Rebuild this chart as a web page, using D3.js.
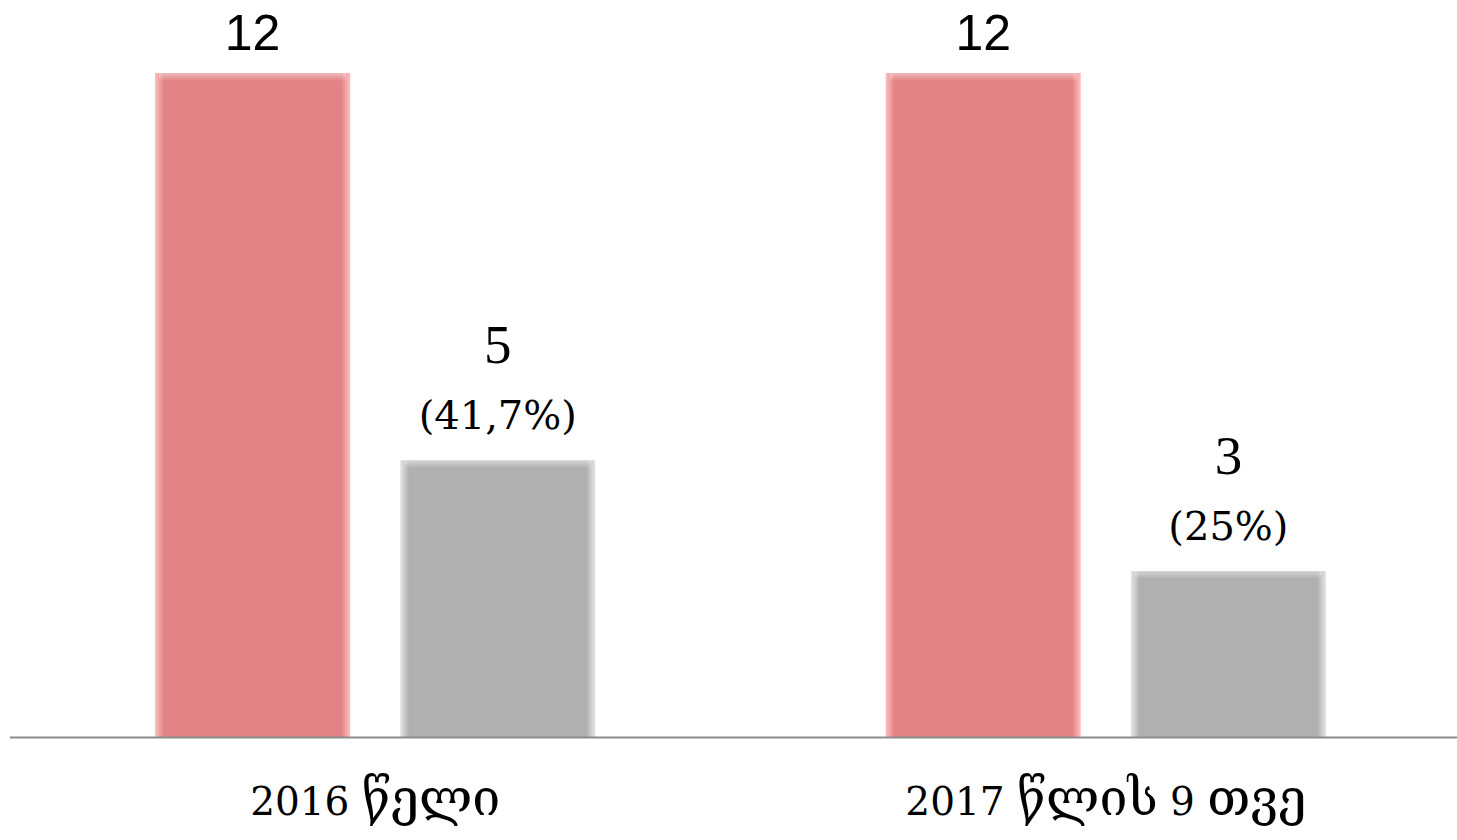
<!DOCTYPE html>
<html><head><meta charset="utf-8">
<script src="https://cdn.jsdelivr.net/npm/d3@7"></script>
<style>html,body{margin:0;padding:0;background:#fff;}svg{display:block;}</style>
</head><body>
<svg id="chart" width="1457" height="840"></svg>
<script>
const categories = ["2016 წელი", "2017 წლის 9 თვე"];
const series = ["total", "part"];
const totalValues = [12, 12];
const partValues = [5, 3];
const partPercents = ["(41,7%)", "(25%)"];

const W = 1457, H = 840;
const svg = d3.select("#chart");
const baseY = 737, topY = 73;

const x0 = d3.scaleBand().domain(categories).range([155, 1326]).paddingInner(290/730).paddingOuter(0);
const x1 = d3.scaleBand().domain(series).range([0, x0.bandwidth()]).paddingInner(50/245).paddingOuter(0);
const y = d3.scaleLinear().domain([0, 12]).range([baseY, topY]);

const colors = {total: {base: "#E38385", edge: "#FFC0C0"}, part: {base: "#B0B0B0", edge: "#E6E6E6"}};
const defs = svg.append("defs");
Object.entries(colors).forEach(([k, c]) => {
  const g = defs.append("linearGradient").attr("id", "h-" + k).attr("x1", 0).attr("x2", 1).attr("y1", 0).attr("y2", 0);
  [[0, c.edge],[0.045, c.base],[0.955, c.base],[1, c.edge]].forEach(([o, col]) => g.append("stop").attr("offset", o).attr("stop-color", col));
});
const tg = defs.append("linearGradient").attr("id", "topg").attr("x1", 0).attr("x2", 0).attr("y1", 0).attr("y2", 1);
tg.append("stop").attr("offset", 0).attr("stop-color", "#fff").attr("stop-opacity", 0.45);
tg.append("stop").attr("offset", 1).attr("stop-color", "#fff").attr("stop-opacity", 0);

const rows = categories.map((c, i) => ({cat: c, items: [
  {key: "total", v: totalValues[i], pct: null},
  {key: "part", v: partValues[i], pct: partPercents[i]}
]}));

const groups = svg.selectAll("g.grp").data(rows).enter().append("g").attr("class", "grp")
  .attr("transform", d => `translate(${x0(d.cat)},0)`);

const bars = groups.selectAll("g.bar").data(d => d.items).enter().append("g").attr("class", "bar");
bars.append("rect")
  .attr("x", d => x1(d.key)).attr("width", x1.bandwidth())
  .attr("y", d => y(d.v)).attr("height", d => baseY - y(d.v))
  .attr("fill", d => `url(#h-${d.key})`);
bars.append("rect")
  .attr("x", d => x1(d.key) + 4).attr("width", x1.bandwidth() - 8)
  .attr("y", d => y(d.v)).attr("height", 8)
  .attr("fill", "url(#topg)");

// value labels
bars.filter(d => d.key === "total").append("text")
  .attr("x", d => x1(d.key) + x1.bandwidth()/2).attr("y", d => y(d.v) - 23)
  .attr("text-anchor", "middle").attr("font-family", "'Liberation Sans', Arial, sans-serif")
  .attr("font-size", 50).attr("fill", "#000").text(d => d.v);
bars.filter(d => d.key === "part").append("text")
  .attr("x", d => x1(d.key) + x1.bandwidth()/2).attr("y", d => y(d.v) - 97)
  .attr("text-anchor", "middle").attr("font-family", "'Liberation Serif', serif")
  .attr("font-size", 55).attr("fill", "#000").text(d => d.v);
bars.filter(d => d.key === "part").append("text")
  .attr("x", d => x1(d.key) + x1.bandwidth()/2).attr("y", d => y(d.v) - 31)
  .attr("text-anchor", "middle").attr("font-family", "'DejaVu Serif', serif")
  .attr("font-size", 40).attr("fill", "#000").text(d => d.pct);

// axis line
svg.append("line").attr("x1", 10).attr("x2", W).attr("y1", baseY + 0.5).attr("y2", baseY + 0.5)
  .attr("stroke", "#8C8C8C").attr("stroke-width", 2);

// category labels
const xAxis = d3.axisBottom(x0).tickSize(0).tickPadding(0);
const ax = svg.append("g").attr("transform", `translate(0,${baseY})`).call(xAxis);
ax.select(".domain").remove();
ax.selectAll("text").attr("font-family", "'DejaVu Serif', serif").attr("font-size", 39)
  .attr("fill", "#000").attr("dy", null).attr("y", 78)
  .each(function(d) {
    const t = d3.select(this);
    t.text(null);
    d.split(/([\u10A0-\u10FF]+)/).filter(s => s.length).forEach(s => {
      const ts = t.append("tspan").text(s);
      if (/[\u10A0-\u10FF]/.test(s)) ts.attr("font-size", 50);
    });
  });
</script>
</body></html>
